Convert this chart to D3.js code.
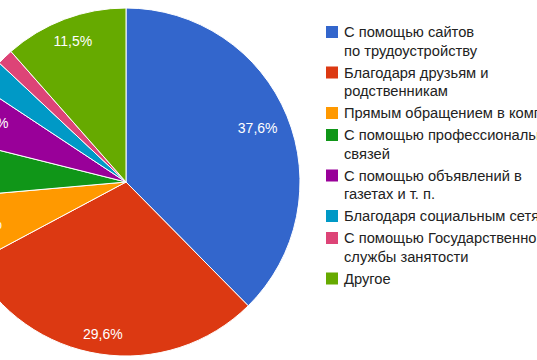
<!DOCTYPE html>
<html><head><meta charset="utf-8">
<script src="https://cdn.jsdelivr.net/npm/d3@7"></script>
<style>html,body{margin:0;padding:0;background:#fff;overflow:hidden}svg{display:block}</style>
</head><body>
<script>
const categories = [
  ["С помощью сайтов", "по трудоустройству"],
  ["Благодаря друзьям и", "родственникам"],
  ["Прямым обращением в компанию"],
  ["С помощью профессиональных", "связей"],
  ["С помощью объявлений в", "газетах и т. п."],
  ["Благодаря социальным сетям"],
  ["С помощью Государственной", "службы занятости"],
  ["Другое"]
];
const values = [37.6, 29.6, 6.4, 5.3, 5.4, 2.7, 1.5, 11.5];
const colors = ["#3366cc", "#dc3912", "#ff9900", "#109618", "#990099", "#0099c6", "#dd4477", "#66aa00"];

const W = 537, H = 360;
const cx = 126, cy = 182, R = 174;
const svg = d3.select("body").append("svg").attr("width", W).attr("height", H);

const pie = d3.pie().value(d => d).sort(null);
const arcs = pie(values);
const arc = d3.arc().innerRadius(0).outerRadius(R);
const color = d3.scaleOrdinal().domain(d3.range(values.length)).range(colors);
const total = d3.sum(values);
const loc = d3.formatLocale({decimal: ",", thousands: " ", grouping: [3], currency: ["", ""]});
const fmt = loc.format(".1%");

const g = svg.append("g").attr("transform", `translate(${cx},${cy})`);
g.selectAll("path").data(arcs).join("path")
  .attr("d", arc)
  .attr("fill", (d, i) => color(i))
  .attr("stroke", "#fff").attr("stroke-width", 1);

// slice labels, placed so the text box sits just inside the rim
const lab = g.selectAll("text.pct").data(arcs.filter(d => d.value / total >= 0.04)).join("text")
  .attr("class", "pct")
  .attr("font-family", "Arial, 'Liberation Sans', sans-serif")
  .attr("font-size", 14)
  .attr("fill", "#ffffff")
  .attr("text-anchor", "middle")
  .attr("dy", "0.35em")
  .text(d => fmt(d.value / total));
lab.each(function(d) {
  const bb = this.getBBox();
  const a = (d.startAngle + d.endAngle) / 2;
  const s = Math.sin(a), c = Math.cos(a);
  const ext = Math.abs(s) * bb.width / 2 + Math.abs(c) * 6;
  const dist = R - 11 - ext;
  d3.select(this).attr("x", dist * s).attr("y", -dist * c);
});

// legend
const lx = 326, textX = 344, firstY = 32, lineH = 18.5, itemGap = 3.5;
let y = firstY;
const leg = svg.append("g");
categories.forEach((lines, i) => {
  leg.append("rect").attr("x", lx).attr("y", y - 6).attr("width", 12).attr("height", 12)
    .attr("fill", color(i));
  const t = leg.append("text")
    .attr("font-family", "Arial, 'Liberation Sans', sans-serif")
    .attr("font-size", 14.7).attr("fill", "#222222");
  lines.forEach((ln, j) => {
    t.append("tspan").attr("x", textX).attr("y", y + j * lineH).attr("dy", "0.35em").text(ln);
  });
  y += lines.length * lineH + itemGap;
});
</script>
</body></html>
